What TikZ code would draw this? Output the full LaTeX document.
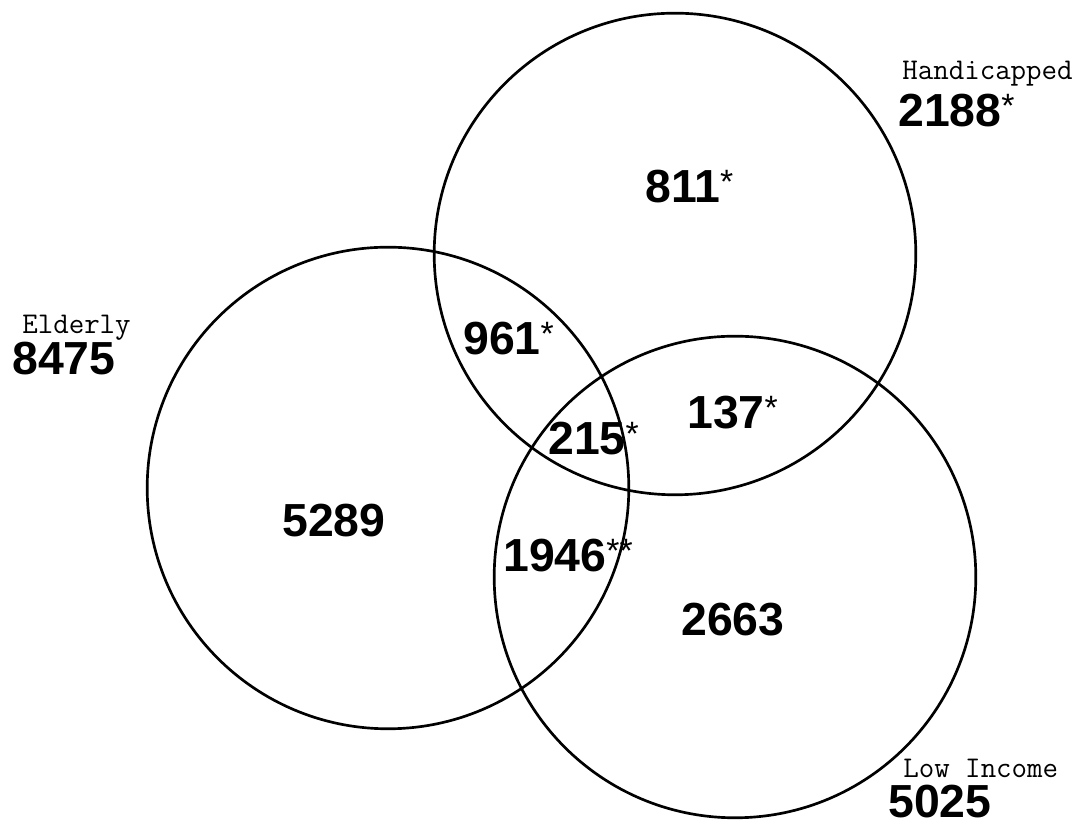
\documentclass[tikz,border=0pt]{standalone}
\usepackage{fontspec}
\newfontfamily\countfont{Liberation Sans}
\newcommand{\starnote}{\raisebox{6.5pt}{\mdseries\fontsize{24}{26}\selectfont *}}
\begin{document}
\begin{tikzpicture}[
  set/.style={draw,line width=1.9pt},
  count/.style={anchor=base west,inner sep=0pt,font=\countfont\bfseries\fontsize{33}{36}\selectfont},
  setname/.style={anchor=base west,inner sep=0pt,font=\ttfamily\fontsize{21.4}{23}\selectfont}]

%frame of the page
  \useasboundingbox (0,0) rectangle (27.15,20.65);

%centres of the three sets
  \coordinate (elderly) at (9.7,8.45);
  \coordinate (handicapped) at (16.875,14.3);
  \coordinate (lowincome) at (18.375,6.225);

%draw the sets
  \foreach \c in {elderly,handicapped,lowincome}
    \draw[set] (\c) circle (6.02);

%names and totals of the sets
  \node[setname] (eldname) at (0.55,12.3) {Elderly};
  \node[count] (eldtotal) at (0.3,11.275) {8475};
  \node[setname] (hcpname) at (22.55,18.65) {Handicapped};
  \node[count] (hcptotal) at (22.45,17.475) {2188\starnote};
  \node[setname] (lowname) at (22.575,1.22) {Low Income};
  \node[count] (lowtotal) at (22.2,0.2) {5025};

%counts of the regions
  \node[count] (eldonly) at (7.05,7.225) {5289};
  \node[count] (hcponly) at (16.125,15.575) {811\starnote};
  \node[count] (lowonly) at (17.025,4.75) {2663};
  \node[count] (eldhcp) at (11.575,11.775) {961\starnote};
  \node[count] (hcplow) at (17.175,9.925) {137\starnote};
  \node[count] (eldlow) at (12.575,6.35) {1946\starnote\starnote};
  \node[count] (allthree) at (13.7,9.275) {215\starnote};

\end{tikzpicture}
\end{document}
